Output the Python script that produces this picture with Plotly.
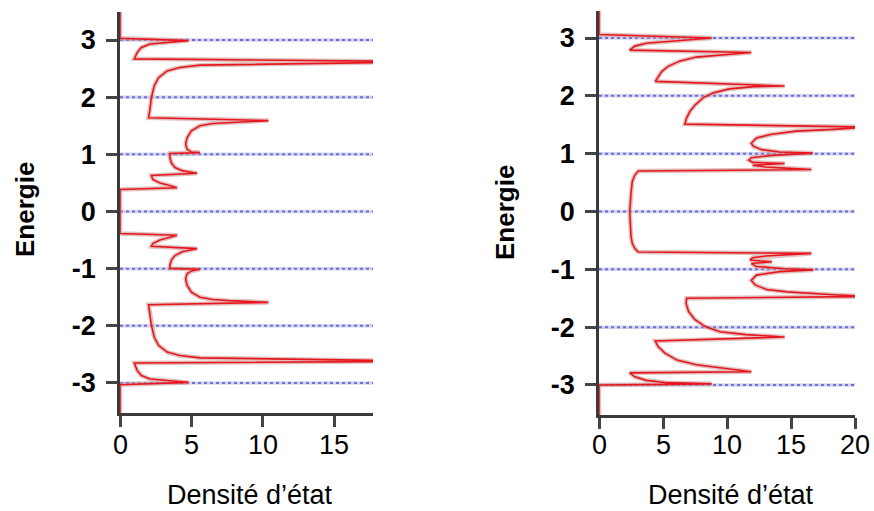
import plotly.graph_objects as go

# ---------------- data ----------------
# Left panel: energy (descending) and density of states
energy_left = [3.6, 3.03, 2.99, 2.96, 2.93, 2.87, 2.78, 2.67, 2.62, 2.56, 2.52, 2.46, 2.34, 2.20,
               1.99, 1.79, 1.64, 1.59, 1.56, 1.54, 1.50, 1.41, 1.29, 1.18, 1.09, 1.04, 1.03, 1.015,
               0.94, 0.85, 0.77, 0.71, 0.67, 0.63, 0.56, 0.50, 0.46, 0.415, 0.385,
               -0.385, -0.415, -0.46, -0.50, -0.56, -0.61, -0.65, -0.70, -0.77, -0.85, -0.94,
               -0.995, -1.01, -1.04, -1.09, -1.18, -1.29, -1.41, -1.50, -1.54, -1.56, -1.59,
               -1.63, -1.79, -1.99, -2.20, -2.34, -2.46, -2.52, -2.56, -2.62, -2.65, -2.78,
               -2.87, -2.93, -2.96, -2.99, -3.03, -3.6]
dos_left = [0, 0, 4.8, 3.5, 2.1, 1.5, 1.2, 1.0, 22, 5.6, 4.2, 3.3, 2.7, 2.4,
            2.2, 2.1, 2.0, 10.4, 7.6, 6.5, 5.6, 5.0, 4.7, 4.6, 4.7, 5.0, 5.6, 3.5,
            3.5, 3.6, 3.85, 4.4, 5.4, 2.2, 2.3, 2.8, 3.4, 4.0, 0,
            0, 4.0, 3.4, 2.8, 2.3, 2.2, 5.4, 4.4, 3.85, 3.6, 3.5,
            3.5, 5.6, 5.0, 4.7, 4.6, 4.7, 5.0, 5.6, 6.5, 7.6, 10.4,
            2.0, 2.1, 2.2, 2.4, 2.7, 3.3, 4.2, 5.6, 22, 1.0, 1.2,
            1.5, 2.1, 3.5, 4.8, 0, 0]

# Right panel
energy_right = [3.6, 3.06, 3.00, 2.97, 2.94, 2.91, 2.86, 2.79, 2.75, 2.71, 2.67, 2.60, 2.51, 2.42,
                2.31, 2.25, 2.17, 2.16, 2.12, 2.05, 1.97, 1.84, 1.73, 1.62, 1.51, 1.46, 1.42,
                1.39, 1.33, 1.27, 1.18, 1.13, 1.07, 1.03, 1.01, 0.97, 0.93, 0.89, 0.85, 0.83,
                0.80, 0.77, 0.75, 0.725, 0.70, 0.63, 0.52, 0.32, 0.0, -0.43, -0.55, -0.64,
                -0.70, -0.725, -0.77, -0.80, -0.84, -0.87, -0.90, -0.95, -0.99, -1.01, -1.04,
                -1.10, -1.19, -1.27, -1.35, -1.39, -1.44, -1.47, -1.50, -1.59, -1.73, -1.87,
                -1.99, -2.08, -2.13, -2.17, -2.24, -2.33, -2.45, -2.57, -2.65, -2.70, -2.77,
                -2.79, -2.86, -2.92, -2.96, -2.98, -3.00, -3.6]
dos_right = [0, 0, 8.8, 6.85, 5.0, 3.7, 2.8, 2.4, 11.9, 9.45, 7.6, 6.3, 5.4, 4.9,
             4.55, 4.4, 14.5, 12.1, 10.2, 8.9, 8.15, 7.5, 7.1, 6.85, 6.7, 21, 18.3,
             15.4, 13.4, 12.3, 11.9, 12.05, 12.7, 14.1, 16.7, 13.5, 11.9, 11.7, 12.0, 14.5,
             12.0, 13.0, 14.5, 16.6, 3.07, 2.8, 2.6, 2.5, 2.4, 2.5, 2.6, 2.8,
             3.07, 16.6, 13.0, 12.0, 11.8, 13.5, 11.9, 12.3, 14.5, 16.75, 14.1,
             12.3, 11.9, 12.2, 13.1, 14.7, 18.3, 21, 6.85, 6.8, 7.0, 7.5,
             8.3, 9.45, 11.5, 14.5, 4.4, 4.6, 5.15, 6.1, 7.6, 9.45, 11.9,
             2.4, 2.8, 3.7, 5.3, 8.8, 0, 0]

energy_ticks = [-3, -2, -1, 0, 1, 2, 3]
energy_tick_labels = ["-3", "-2", "-1", "0", "1", "2", "3"]
dos_ticks_left = [0, 5, 10, 15]
dos_ticks_right = [0, 5, 10, 15, 20]
dos_max_left = 17.73
dos_max_right = 20
x_title = "Densité d’état"
y_title = "Energie"

W, H = 874, 511
FONT = "Liberation Sans, Arial, sans-serif"
RED = "#e8161c"
SHADOW = "rgba(205,150,150,0.6)"

fig = go.Figure()


def add_panel(xa, ya, dos, energy, xmax):
    xs, ys = [], []
    for e in energy_ticks:
        xs += [0, xmax, None]
        ys += [e, e, None]
    fig.add_trace(go.Scatter(x=xs, y=ys, xaxis=xa, yaxis=ya, mode="lines",
                             line=dict(color="rgba(200,200,222,0.75)", width=3.5),
                             hoverinfo="skip", showlegend=False))
    fig.add_trace(go.Scatter(x=xs, y=ys, xaxis=xa, yaxis=ya, mode="lines",
                             line=dict(color="rgba(90,90,230,0.85)", width=2, dash="dot"),
                             hoverinfo="skip", showlegend=False))
    fig.add_trace(go.Scatter(x=dos, y=energy, xaxis=xa, yaxis=ya, mode="lines",
                             line=dict(color=SHADOW, width=4.5),
                             hoverinfo="skip", showlegend=False))
    fig.add_trace(go.Scatter(x=dos, y=energy, xaxis=xa, yaxis=ya, mode="lines",
                             line=dict(color=RED, width=1.6),
                             showlegend=False))


add_panel("x", "y", dos_left, energy_left, dos_max_left)
add_panel("x2", "y2", dos_right, energy_right, dos_max_right)

axis_common = dict(showline=True, linecolor="#3a3a3a", linewidth=2.5, ticks="outside",
                   ticklen=11, tickwidth=2.5, tickcolor="#444", showgrid=False,
                   zeroline=False, mirror=False, automargin=False)

ytickfont = dict(family=FONT, size=27, color="black", weight="bold")

fig.update_layout(
    template="none",
    width=W, height=H, margin=dict(l=0, r=0, t=0, b=0, pad=0), autosize=False,
    paper_bgcolor="white", plot_bgcolor="white",
    xaxis=dict(domain=[120 / W, 373 / W], range=[0, dos_max_left], tickvals=dos_ticks_left,
               showticklabels=False, anchor="y", **axis_common),
    yaxis=dict(domain=[1 - 413 / H, 1 - 12 / H], range=[-3.525, 3.49], tickvals=energy_ticks,
               ticktext=energy_tick_labels, tickfont=ytickfont, anchor="x",
               ticklabelstandoff=5, **axis_common),
    xaxis2=dict(domain=[599 / W, 855 / W], range=[0, dos_max_right], tickvals=dos_ticks_right,
                showticklabels=False, anchor="y2", **axis_common),
    yaxis2=dict(domain=[1 - 415 / H, 1 - 11 / H], range=[-3.519, 3.467], tickvals=energy_ticks,
                ticktext=energy_tick_labels, tickfont=ytickfont, anchor="x2",
                ticklabelstandoff=5, **axis_common),
)

annos = [
    dict(x=25 / W, y=1 - 210 / H, text=y_title, textangle=-90, xref="paper", yref="paper",
         font=dict(family=FONT, size=26, color="black", weight="bold")),
    dict(x=505 / W, y=1 - 213 / H, text=y_title, textangle=-90, xref="paper", yref="paper",
         font=dict(family=FONT, size=26, color="black", weight="bold")),
    dict(x=250 / W, y=1 - 495 / H, text=x_title, xref="paper", yref="paper",
         font=dict(family=FONT, size=27, color="black")),
    dict(x=731 / W, y=1 - 495 / H, text=x_title, xref="paper", yref="paper",
         font=dict(family=FONT, size=27, color="black")),
]
# x tick labels as annotations (positioned through the data axes)
for v in dos_ticks_left:
    annos.append(dict(x=v, xref="x", y=1 - 445 / H, yref="paper", text=str(v),
                      font=dict(family=FONT, size=27, color="black")))
for v in dos_ticks_right:
    annos.append(dict(x=v, xref="x2", y=1 - 445 / H, yref="paper", text=str(v),
                      font=dict(family=FONT, size=27, color="black")))
for a in annos:
    a.update(showarrow=False, xanchor="center", yanchor="middle")
fig.update_layout(annotations=annos)

fig.write_html("out.html", config={"displayModeBar": False},
               post_script="document.body.style.margin='0';document.body.style.overflow='hidden';")
